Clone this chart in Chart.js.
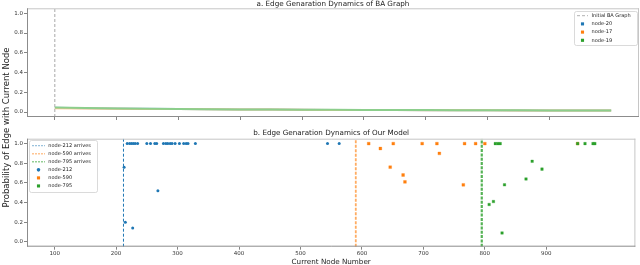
<!DOCTYPE html>
<html><head><meta charset="utf-8">
<script src="https://cdn.jsdelivr.net/npm/chart.js@4.4.0/dist/chart.umd.min.js"></script>
<style>
html,body{margin:0;padding:0;background:#fff;}
#wrap{position:relative;width:640px;height:265px;overflow:hidden;}
canvas{position:absolute;left:0;top:0;}
</style>
</head><body>
<div id="wrap"><canvas id="c1" width="640" height="265"></canvas><canvas id="c2" width="640" height="265"></canvas></div>
<script>
// ---------- data ----------
const xTicks = [100, 200, 300, 400, 500, 600, 700, 800, 900];
const yTicks = [0.0, 0.2, 0.4, 0.6, 0.8, 1.0];

// panel a: BA graph
const baStart = 100;
const baNodes = [100,150,200,250,300,350,400,450,500,550,600,650,700,750,800,850,900,950,1000];
const node20 = [0.043,0.039,0.036,0.033,0.030,0.028,0.026,0.025,0.023,0.022,0.021,0.020,0.019,0.019,0.018,0.017,0.017,0.016,0.016];
const node17 = [0.039,0.036,0.034,0.032,0.030,0.028,0.026,0.025,0.023,0.022,0.021,0.020,0.019,0.019,0.018,0.017,0.017,0.016,0.016];
const node19 = [0.046,0.041,0.037,0.034,0.031,0.029,0.027,0.025,0.024,0.023,0.022,0.021,0.020,0.019,0.018,0.018,0.017,0.017,0.016];

// panel b: our model
const arrive212 = 212, arrive590 = 590, arrive795 = 795;
const node212X = [213,215,227,268,218,222,225,228,231,235,250,256,263,266,277,281,284,288,291,296,303,310,314,317,329,544,563];
const node212Y = [0.76,0.20,0.14,0.52,1,1,1,1,1,1,1,1,1,1,1,1,1,1,1,1,1,1,1,1,1,1,1];
const node590X = [611,630,651,646,667,670,698,722,726,767,765,785,800,951];
const node590Y = [1,0.95,1,0.76,0.68,0.61,1,1,0.90,1,0.58,1,1,1];
const node795X = [817,821,825,877,867,832,814,807,828,893,951,963,976,979];
const node795Y = [1,1,1,0.82,0.64,0.58,0.41,0.38,0.09,0.74,1,1,1,1];

// ---------- helpers ----------
const pts = (xs, ys) => xs.map((x, i) => ({x: x, y: ys[i]}));
const vline = x => [{x: x, y: -0.05}, {x: x, y: 1.05}];
const FONT = 'DejaVu Sans';
Chart.defaults.font.family = FONT;
Chart.defaults.color = '#222';

const frame = {
  id: 'frame',
  afterDatasetsDraw(chart) {
    const {left, top, right, bottom} = chart.chartArea;
    const ctx = chart.ctx;
    ctx.save();
    ctx.lineWidth = 1;
    ctx.strokeStyle = '#c6c6c6';
    ctx.beginPath();
    ctx.moveTo(left, top + 0.5); ctx.lineTo(right, top + 0.5);
    ctx.moveTo(right - 0.5, top); ctx.lineTo(right - 0.5, bottom);
    ctx.stroke();
    ctx.strokeStyle = '#8c8c8c';
    ctx.beginPath();
    ctx.moveTo(left + 0.5, top); ctx.lineTo(left + 0.5, bottom);
    ctx.moveTo(left, bottom - 0.5); ctx.lineTo(right, bottom - 0.5);
    ctx.stroke();
    ctx.restore();
  }
};

// title centred over the plot area (like matplotlib's axes title)
const axTitle = {
  id: 'axTitle',
  afterDraw(chart, args, o) {
    if (!o || !o.text) return;
    const {left, right, top} = chart.chartArea;
    const ctx = chart.ctx;
    ctx.save();
    ctx.font = o.size + 'px "' + FONT + '"';
    ctx.fillStyle = '#222';
    ctx.textAlign = 'center';
    ctx.textBaseline = 'middle';
    ctx.fillText(o.text, (left + right) / 2, top - o.gap);
    ctx.restore();
  }
};

function marker(ctx, style, r, x, y) {
  ctx.beginPath();
  if (style === 'circle') { ctx.arc(x, y, r, 0, Math.PI * 2); }
  else { const s = Math.SQRT1_2 * r; ctx.rect(x - s, y - s, 2 * s, 2 * s); }
  ctx.fill();
}

const boxLegend = {
  id: 'boxLegend',
  afterDraw(chart, args, o) {
    if (!o || !o.box) return;
    const ctx = chart.ctx;
    const ds = chart.data.datasets.filter(d => d.legendRank !== undefined)
      .sort((a, b) => a.legendRank - b.legendRank);
    ctx.save();
    const [bx, by, bw, bh] = o.box;
    ctx.fillStyle = 'rgba(255,255,255,0.85)';
    ctx.strokeStyle = '#d0d0d0';
    ctx.lineWidth = 0.8;
    ctx.beginPath();
    ctx.roundRect(bx + 0.5, by + 0.5, bw, bh, 2);
    ctx.fill(); ctx.stroke();
    ds.forEach((d, i) => {
      const y = o.y0 + i * o.dy;
      if (d.legendKind === 'line') {
        ctx.setLineDash(d.legendDash || d.borderDash || []);
        ctx.strokeStyle = d.legendColor || d.borderColor;
        ctx.lineWidth = d.legendWidth || d.borderWidth;
        ctx.beginPath();
        ctx.moveTo(o.hx0, y); ctx.lineTo(o.hx1, y);
        ctx.stroke();
        ctx.setLineDash([]);
      } else {
        ctx.fillStyle = d.legendColor || d.backgroundColor;
        marker(ctx, d.legendStyle || d.pointStyle, d.legendRadius || d.pointRadius, (o.hx0 + o.hx1) / 2, y);
      }
      ctx.fillStyle = '#222';
      ctx.font = '5px "' + FONT + '"';
      ctx.textBaseline = 'middle';
      ctx.textAlign = 'left';
      ctx.fillText(d.label, o.tx, y);
    });
    ctx.restore();
  }
};

const supYLabel = {
  id: 'supYLabel',
  afterDraw(chart, args, o) {
    if (!o || !o.text) return;
    const ctx = chart.ctx;
    ctx.save();
    ctx.translate(o.x, o.y);
    ctx.rotate(-Math.PI / 2);
    ctx.font = o.size + 'px "' + FONT + '"';
    ctx.fillStyle = '#222';
    ctx.textAlign = 'center';
    ctx.textBaseline = 'middle';
    ctx.fillText(o.text, 0, 0);
    ctx.restore();
  }
};

function scalesFor(showXLabels, xHeight) {
  return {
    x: {
      type: 'linear', min: 55, max: 1045,
      afterBuildTicks: s => { s.ticks = xTicks.map(v => ({value: v})); },
      ticks: {display: showXLabels, font: {size: 5.5}, color: '#333', padding: 0.5, maxRotation: 0, autoSkip: false},
      grid: {drawOnChartArea: false, tickLength: 3, color: '#666', lineWidth: 0.8},
      border: {display: false},
      title: showXLabels ? {display: true, text: 'Current Node Number', font: {size: 7.2, lineHeight: 0.9}, color: '#222', padding: {top: 0, bottom: 0}} : {display: false},
      afterFit: s => { s.height = xHeight; }
    },
    y: {
      type: 'linear', min: -0.05, max: 1.05,
      afterBuildTicks: s => { s.ticks = yTicks.map(v => ({value: v})); },
      ticks: {font: {size: 5.5}, color: '#333', padding: 1, callback: v => v.toFixed(1)},
      grid: {drawOnChartArea: false, tickLength: 3, color: '#666', lineWidth: 0.8},
      border: {display: false},
      afterFit: s => { s.width = 27; }
    }
  };
}

// ---------- chart a ----------
new Chart(document.getElementById('c1'), {
  type: 'scatter',
  data: {
    datasets: [
      {label: 'Initial BA Graph', data: vline(baStart), showLine: true, borderColor: '#a8a8a8', borderDash: [3, 2], borderWidth: 1, pointRadius: 0, order: 3,
       legendRank: 0, legendKind: 'line', legendColor: '#b0b0b0'},
      {label: 'node-20', data: pts(baNodes, node20), showLine: true, borderColor: '#8fb9d9', backgroundColor: '#1f77b4', borderWidth: 2, pointRadius: 0, order: 2,
       legendRank: 1, legendStyle: 'rect', legendRadius: 2.2},
      {label: 'node-17', data: pts(baNodes, node17), showLine: true, borderColor: '#ffc48e', backgroundColor: '#ff7f0e', borderWidth: 2, pointRadius: 0, order: 1,
       legendRank: 2, legendStyle: 'rect', legendRadius: 2.2},
      {label: 'node-19', data: pts(baNodes, node19), showLine: true, borderColor: '#8cce8c', backgroundColor: '#2ca02c', borderWidth: 2, pointRadius: 0, order: 0,
       legendRank: 3, legendStyle: 'rect', legendRadius: 2.2}
    ]
  },
  options: {
    responsive: false, animation: false, devicePixelRatio: 1,
    layout: {padding: {top: 8.3, left: 0, right: 1, bottom: 144}},
    plugins: {
      legend: {display: false}, tooltip: {enabled: false}, title: {display: false},
      axTitle: {text: 'a. Edge Genaration Dynamics of BA Graph', size: 7.2, gap: 4.3},
      boxLegend: {box: [574, 11, 63, 34], y0: 15.7, dy: 8.2, hx0: 577, hx1: 588, tx: 591.5}
    },
    scales: scalesFor(false, 4)
  },
  plugins: [frame, boxLegend, axTitle]
});

// ---------- chart b ----------
new Chart(document.getElementById('c2'), {
  type: 'scatter',
  data: {
    datasets: [
      {label: 'node-212 arrives', data: vline(arrive212), showLine: true, borderColor: '#1f77b4', borderDash: [3, 2], borderWidth: 1, pointRadius: 0, order: 5,
       legendRank: 0, legendKind: 'line', legendColor: 'rgba(31,119,180,0.45)', legendWidth: 1.2, legendDash: [2, 1]},
      {label: 'node-590 arrives', data: vline(arrive590), showLine: true, borderColor: 'rgba(255,127,14,0.65)', borderDash: [3, 1.5], borderWidth: 1.8, pointRadius: 0, order: 4,
       legendRank: 1, legendKind: 'line', legendColor: 'rgba(255,127,14,0.45)', legendWidth: 1.5, legendDash: [2, 1]},
      {label: 'node-795 arrives', data: vline(arrive795), showLine: true, borderColor: 'rgba(44,160,44,0.8)', borderDash: [3, 1.3], borderWidth: 2.2, pointRadius: 0, order: 3,
       legendRank: 2, legendKind: 'line', legendColor: 'rgba(44,160,44,0.5)', legendWidth: 1.5, legendDash: [2, 1]},
      {label: 'node-212', data: pts(node212X, node212Y), backgroundColor: '#1f77b4', borderColor: '#1f77b4', borderWidth: 0, pointStyle: 'circle', pointRadius: 1.5, order: 2,
       legendRank: 3, legendRadius: 1.8},
      {label: 'node-590', data: pts(node590X, node590Y), backgroundColor: '#ff7f0e', borderColor: 'rgba(255,127,14,0.5)', borderWidth: 0.6, pointStyle: 'rect', pointRadius: 2.0, order: 1,
       legendRank: 4, legendRadius: 2.2},
      {label: 'node-795', data: pts(node795X, node795Y), backgroundColor: '#2ca02c', borderColor: 'rgba(44,160,44,0.5)', borderWidth: 0.6, pointStyle: 'rect', pointRadius: 1.8, order: 0,
       legendRank: 5, legendRadius: 2.2}
    ]
  },
  options: {
    responsive: false, animation: false, devicePixelRatio: 1,
    layout: {padding: {top: 138.7, left: 0, right: 1, bottom: 0}},
    plugins: {
      legend: {display: false}, tooltip: {enabled: false}, title: {display: false},
      axTitle: {text: 'b. Edge Genaration Dynamics of Our Model', size: 7.2, gap: 5.5},
      boxLegend: {box: [29, 140, 68, 52], y0: 145.7, dy: 8.05, hx0: 32, hx1: 45, tx: 48.3},
      supYLabel: {text: 'Probability of Edge with Current Node', x: 7, y: 127.5, size: 8.5}
    },
    scales: scalesFor(true, 18.3)
  },
  plugins: [frame, boxLegend, axTitle, supYLabel]
});
</script>
</body></html>
